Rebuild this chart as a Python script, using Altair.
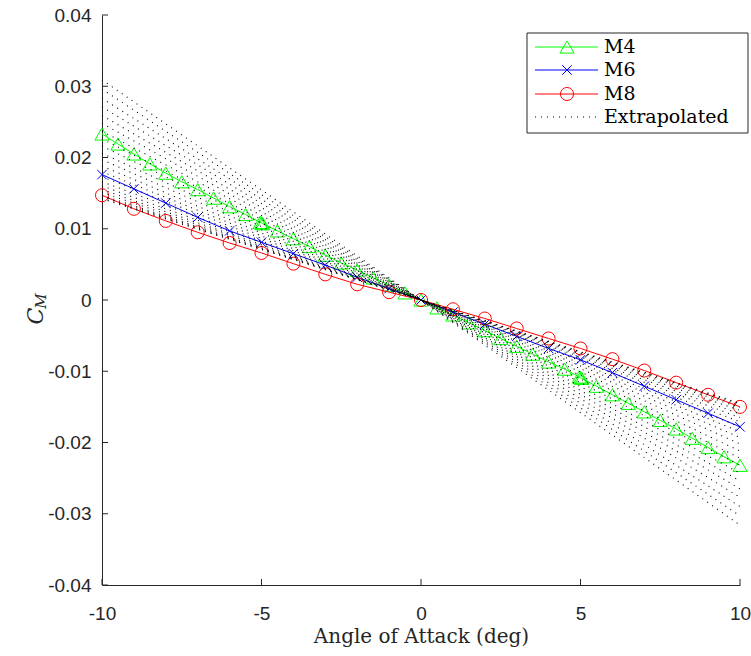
import altair as alt
import pandas as pd

# ---------------- data ----------------
alpha_m4 = [-10, -9.5, -9, -8.5, -8, -7.5, -7, -6.5, -6, -5.5, -5.04, -5, -4.96, -4.5, -4,
            -3.5, -3, -2.5, -2, -1.5, -1, -0.5, 0, 0.5, 1, 1.5, 2, 2.5, 3, 3.5, 4, 4.5,
            4.96, 5, 5.04, 5.5, 6, 6.5, 7, 7.5, 8, 8.5, 9, 9.5, 10]
cm_m4 = [0.0233, 0.0219, 0.0205, 0.0191, 0.0178, 0.0166, 0.0155, 0.0143, 0.0131, 0.0120,
         0.0109, 0.0108, 0.0107, 0.0097, 0.0086, 0.0075, 0.0063, 0.0052, 0.0042, 0.0031,
         0.0021, 0.0010, 0.0, -0.0011, -0.0021, -0.0032, -0.0043, -0.0054, -0.0065, -0.0076,
         -0.0087, -0.0097, -0.0108, -0.0109, -0.0110, -0.0121, -0.0133, -0.0145, -0.0157,
         -0.0169, -0.0181, -0.0194, -0.0207, -0.0220, -0.0232]

alpha_m6 = [-10, -9, -8, -7, -6, -5, -4, -3, -2, -1, 0, 1, 2, 3, 4, 5, 6, 7, 8, 9, 10]
cm_m6 = [0.0176, 0.0156, 0.0136, 0.0116, 0.0097, 0.0081, 0.0065, 0.0049, 0.0032, 0.0016, 0.0,
         -0.0017, -0.0034, -0.0051, -0.0068, -0.0084, -0.0102, -0.0121, -0.0140, -0.0159, -0.0178]

alpha_m8 = [-10, -9, -8, -7, -6, -5, -4, -3, -2, -1, 0, 1, 2, 3, 4, 5, 6, 7, 8, 9, 10]
cm_m8 = [0.0147, 0.0128, 0.0111, 0.0095, 0.0080, 0.0066, 0.0051, 0.0036, 0.0022, 0.0011, 0.0,
         -0.0013, -0.0026, -0.0040, -0.0054, -0.0068, -0.0083, -0.0099, -0.0116, -0.0133, -0.0150]

# extrapolated (dotted) lines: value at alpha=-10, 0 and +10
ext_alpha = [-10, 0, 10]
ext_left = [0.0309, 0.0296, 0.0283, 0.0271, 0.0259, 0.0248, 0.0237, 0.0226, 0.0216, 0.0206,
            0.0197, 0.0188, 0.0180, 0.0173, 0.0166, 0.0160, 0.0155, 0.0151, 0.0147,
            0.0145, 0.0143, 0.0142]
ext_right = [-0.0316, -0.0303, -0.0290, -0.0277, -0.0265, -0.0254, -0.0243, -0.0232, -0.0222,
             -0.0212, -0.0202, -0.0193, -0.0185, -0.0178, -0.0171, -0.0165, -0.0160, -0.0155,
             -0.0151, -0.0148, -0.0146, -0.0145]

x_ticks = [-10, -5, 0, 5, 10]
y_ticks = [-0.04, -0.03, -0.02, -0.01, 0, 0.01, 0.02, 0.03, 0.04]

series_names = ["M4", "M6", "M8", "Extrapolated"]
series_colors = ["#00ff00", "#0000ff", "#ff0000", "#000000"]

# ---------------- tables ----------------
df_m4 = pd.DataFrame({"alpha": alpha_m4, "cm": cm_m4})
df_m6 = pd.DataFrame({"alpha": alpha_m6, "cm": cm_m6})
df_m8 = pd.DataFrame({"alpha": alpha_m8, "cm": cm_m8})
rows = []
for i, (l, r) in enumerate(zip(ext_left, ext_right)):
    for a, v in zip(ext_alpha, [l, 0.0, r]):
        rows.append({"line": i, "alpha": a, "cm": v})
df_ext = pd.DataFrame(rows)
df_xt = pd.DataFrame({"alpha": x_ticks})
df_yt = pd.DataFrame({"cm": y_ticks})

W, H = 638, 570
AX = "#262626"
SERIF = "DejaVu Serif"
SANS = "Liberation Sans"

xs = alt.Scale(domain=[-10, 10], nice=False, zero=False)
ys = alt.Scale(domain=[-0.04, 0.04], nice=False, zero=False)

xaxis = alt.Axis(values=x_ticks, ticks=False, tickSize=0, grid=False, domainColor=AX,
                 domainWidth=1, labelFont=SANS, labelFontSize=19, labelColor=AX,
                 labelPadding=19, labelFlush=False, labelOverlap=False,
                 labelExpr="toString(datum.value)",
                 title="Angle of Attack (deg)", titleFont=SERIF, titleFontSize=20,
                 titleFontWeight="normal", titleColor=AX, titleBaseline="alphabetic",
                 titleY=57)
yaxis = alt.Axis(values=y_ticks, ticks=False, tickSize=0, grid=False, domainColor=AX,
                 domainWidth=1, labelFont=SANS, labelFontSize=19, labelColor=AX,
                 labelPadding=11, labelFlush=False, labelOverlap=False,
                 labelExpr="toString(round(datum.value*100)/100)",
                 title=None)

X = alt.X("alpha:Q", scale=xs, axis=xaxis)
Y = alt.Y("cm:Q", scale=ys, axis=yaxis)

XPATH = "M-1,-1L1,1M-1,1L1,-1"
shapes = ["triangle-up", XPATH, "circle"]
sizes = [200, 90, 170]


def series_layers(df, color, shape, size):
    line = alt.Chart(df).mark_line(color=color, strokeWidth=1).encode(x=X, y=Y)
    pts = alt.Chart(df).mark_point(shape=shape, size=size, filled=False, color=color,
                                   strokeWidth=1, opacity=1).encode(x=X, y=Y)
    return [line, pts]


layers = []
for df, c, s, z in zip([df_m4, df_m6, df_m8], series_colors[:3], shapes, sizes):
    layers += series_layers(df, c, s, z)

ext = alt.Chart(df_ext).mark_line(color="black", strokeWidth=1.1, strokeDash=[1, 5]).encode(
    x=X, y=Y, detail="line:N", order="alpha:Q")
layers.append(ext)

# inward tick marks
layers.append(alt.Chart(df_yt).mark_rule(color=AX, strokeWidth=1).encode(
    y=Y, x=alt.value(0), x2=alt.value(6)))
layers.append(alt.Chart(df_xt).mark_rule(color=AX, strokeWidth=1).encode(
    x=X, y=alt.value(H), y2=alt.value(H - 6)))

# y-axis title C_M
one = alt.Data(values=[{}])
layers.append(alt.Chart(one).mark_text(angle=270, font=SERIF, fontStyle="italic", fontSize=22,
                                       color=AX, align="center", baseline="middle").encode(
    x=alt.value(-66), y=alt.value(301), text=alt.value("C")))
layers.append(alt.Chart(one).mark_text(angle=270, font=SERIF, fontStyle="italic", fontSize=15,
                                       color=AX, align="center", baseline="middle").encode(
    x=alt.value(-61), y=alt.value(286), text=alt.value("M")))

# legend
layers.append(alt.Chart(one).mark_rect(fill="white", stroke=AX, strokeWidth=1).encode(
    x=alt.value(425), x2=alt.value(646), y=alt.value(18), y2=alt.value(118)))
row_y = [32, 55, 79, 102]
for i, name in enumerate(series_names):
    c = series_colors[i]
    if i < 3:
        layers.append(alt.Chart(one).mark_rule(color=c, strokeWidth=1).encode(
            x=alt.value(433), x2=alt.value(496), y=alt.value(row_y[i])))
        layers.append(alt.Chart(one).mark_point(shape=shapes[i], size=sizes[i], filled=False,
                                                color=c, strokeWidth=1, opacity=1).encode(
            x=alt.value(465), y=alt.value(row_y[i])))
    else:
        layers.append(alt.Chart(one).mark_rule(color=c, strokeWidth=1.1, strokeDash=[1, 5]).encode(
            x=alt.value(433), x2=alt.value(496), y=alt.value(row_y[i])))
    layers.append(alt.Chart(one).mark_text(align="left", baseline="middle", font=SERIF,
                                           fontSize=19, color="black").encode(
        x=alt.value(502), y=alt.value(row_y[i]), text=alt.value(name)))

chart = alt.layer(*layers).properties(
    width=W, height=H,
    autosize=alt.AutoSizeParams(type="none"),
    padding={"left": 102, "top": 15, "right": 11, "bottom": 71},
    background="white",
).configure_view(stroke=None)

chart.save("out.html", embed_options={"renderer": "svg", "actions": False})
